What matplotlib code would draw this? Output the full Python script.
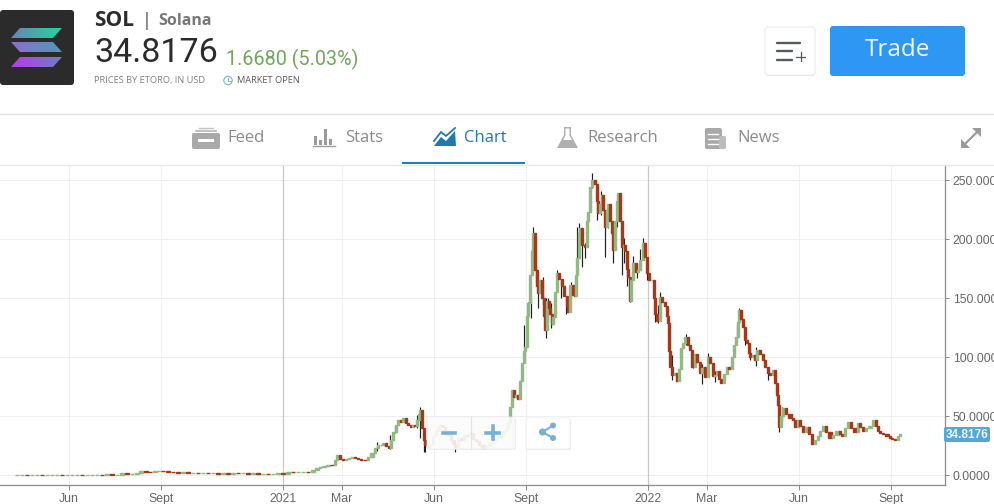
import numpy as np
import matplotlib
matplotlib.use("Agg")
import matplotlib.pyplot as plt
from matplotlib.patches import FancyBboxPatch, Polygon, Rectangle, Circle

# x unit: days since the left edge of the chart window (about 24 Mar 2020)
DAYS = [17,22,27,32,37,42,47,52,57,62,67,72,77,82,87,92,97,102,107,112,117,122,127,132,137,141,146,150,155,159,163,168,173,178,183,188,193,198,203,208,213,218,223,228,233,238,243,248,253,258,263,268,273,278,283,
288,293,298,303,308,313,317,320,324,328,332,335,337,340,343,346,349,352,355,358,361,365,368,372,375,378,381,383,386,389,391,393,396,398,401,403,406,408,411,413,415,417,419,420,422,424,425,
428,430,433,436,438,440,443,445,448,451,453,455,458,461,464,467,470,473,476,479,483,486,490,493,496,500,503,506,508,510,512,514,516,518,520,522,524,525,527,
528,530,532,533,535,537,538,540,542,544,545,547,549,550,552,553,555,557,559,562,564,567,568,570,573,575,576,577,579,580,582,585,587,588,590,592,595,597,598,600,602,603,605,607,608,610,612,613,615,617,618,620,622,624,625,627,628,630,631,633,636,638,640,643,645,647,649,652,654,655,657,660,662,665,667,668,669,670,672,675,677,679,681,683,685,688,690,692,695,697,700,702,704,705,708,710,713,715,717,719,721,724,727,729,732,734,736,738,739,741,743,745,747,749,750,753,755,757,760,763,765,768,770,773,775,777,778,779,781,783,786,790,793,795,798,800,803,807,809,812,815,818,820,823,826,830,833,837,840,842,845,848,851,855,858,860,863,866,870,873,876,878,880,883,887,890,892,895,898,900]
CLOSE = [.8,.8,.7,.7,.8,.7,.7,.7,.8,.7,.7,.7,.8,.7,.7,.7,.8,.7,1.0,.8,.8,1.8,1.6,1.6,2.0,3.4,3.3,3.2,3.4,3.9,3.6,3.2,3.0,2.5,2.7,2.3,2.3,2.0,2.0,1.7,1.8,1.6,1.9,1.6,2.1,1.7,2.0,1.6,1.8,1.4,1.5,1.3,1.3,1.7,1.6,
3.2,3.0,3.0,3.0,2.6,5,6,7,8,9.3,8.7,13,17,14,13,14,15,16,14.5,14,13.5,13,15.5,19,23,26,26,27.5,25,23,30,37,43,47,45,48.6,44,43,41,43,42,47,52,55,40,30,26,
24,27,33,38,41,43,41,38,34,30,27,24,32,30,34,33,36,31,29,26,23,25,28,30,32,33,38,40,44,58,72,66,68,65,80,95,105,109,135,
146,170,190,205,174,160,154,165,150,135,123,148,142,137,128,134,155,171,166,160,152,143,138,161,153,152,170,184,205,209,195,193,215,223,244,250,247,232,222,230,237,225,210,225,230,215,205,191,215,232,239,215,193,195,190,175,168,148,165,180,172,174,182,197,185,171,165,165,150,137,131,151,147,143,135,129,105,92,85,87,80,90,108,112,117,110,106,92,103,96,87,91,92,83,100,95,84,85,88,82,78,86,92,90,100,110,117,130,140,132,126,115,112,104,100,102,98,106,103,98,92,87,85,89,78,68,60,41,50,57,52,49,47,41,47,42,37,41,35,27,30,33,38,42,37,32,34,38,35,33,40,45,40,37,44,41,38,40,42,47,42,38,36,35,33,32,31,30,33,34.8]

WICK_DAYS = [377,390,395,417,420,424,425,455,524,528,531,533,532,536,538,543,546,548,551,557,561,566,571,577,579,582,585,587,592,597,601,605,608,613,617,622,624,627,630,633,637,640,643,647,655,658,660,672,686,693,702,708,715,737,739,745,750,756,768,779,782]
WICK_HIGH = [28,34,43,51,58,38,33,30,127,147,150,210,192,178,164,168,150,150,146,174,165,151,164,210,214,201,197,208,256,237,241,220,230,209,228,201,201,180,167,186,180,192,201,176,150,144,155,102,120,104,94,104,88,127,142,119,108,109,92,53,58]
WICK_LOW = [21,22,36,40,32,20,20,20,108,133,133,192,171,164,142,144,116,130,125,161,150,137,151,182,197,176,184,199,243,216,220,185,209,180,210,170,180,160,147,167,167,180,192,165,130,129,138,81,110,91,77,91,79,116,130,110,98,93,81,37,46]

X_TICK_POS = [69,161,283,342,434,526,648,707,799,891]
X_TICK_LABELS = ["Jun","Sept","2021","Mar","Jun","Sept","2022","Mar","Jun","Sept"]
Y_TICKS = [0,50,100,150,200,250]
Y_TICK_LABELS = ["0.0000","50.0000","100.0000","150.0000","200.0000","250.0000"]
YEAR_POS = [283,648]
LAST_PRICE = "34.8176"

W, H = 995, 504
fig = plt.figure(figsize=(W/100, H/100), dpi=100, facecolor="white")
SANS = "Open Sans"
GREY = "#666666"

# ---- chart
ax = fig.add_axes([0, (H-485)/H, 945/W, 320/H], facecolor="white")
ax.set_xlim(0, 945)
ax.set_ylim(-8.04, 262.7)
for s in ("left", "top"):
    ax.spines[s].set_visible(False)
for s in ("right", "bottom"):
    ax.spines[s].set_color("#8c8c8c")
    ax.spines[s].set_linewidth(0.9)
ax.yaxis.tick_right()
ax.set_xticks(X_TICK_POS)
ax.set_xticklabels(X_TICK_LABELS, fontname="Liberation Sans", fontsize=8.8, color=GREY)
ax.set_yticks(Y_TICKS)
ax.set_yticklabels(Y_TICK_LABELS, fontname="Liberation Sans", fontsize=8.8, color=GREY)
ax.tick_params(axis="x", length=3.5, width=0.7, color="#8c8c8c", pad=2.5)
ax.tick_params(axis="y", length=3, width=0.7, color="#8c8c8c", pad=2.5)
ax.grid(True, color="#efefef", linewidth=0.7)
ax.set_axisbelow(True)
for p in YEAR_POS:
    ax.axvline(p, color="#c8c8c8", linewidth=0.9, zorder=1)

days = np.array(DAYS, float)
close = np.array(CLOSE, float)
opens = np.r_[close[0], close[:-1]]
gaps = np.r_[5, np.diff(days)]
widths = np.clip(gaps*0.9, 2.0, 4.6)
up = close >= opens
ax.vlines(WICK_DAYS, WICK_LOW, WICK_HIGH, color="#1f1f1f", linewidth=0.85, zorder=2)
ax.bar(days, close-opens, bottom=opens, width=widths,
       color=np.where(up, "#93b982", "#a5371a"),
       edgecolor=np.where(up, "#93b982", "#a5371a"), linewidth=1.0, zorder=3)

# ---- page furniture, in pixel coordinates
ui = fig.add_axes([0, 0, 1, 1], facecolor="none")
ui.set_xlim(0, W)
ui.set_ylim(H, 0)
ui.axis("off")

def rbox(x0, y0, x1, y1, r, **kw):
    p = FancyBboxPatch((x0+r, y0+r), x1-x0-2*r, y1-y0-2*r,
                       boxstyle=f"round,pad={r},rounding_size={r}", **kw)
    ui.add_patch(p)
    return p

ui.add_patch(Rectangle((0, 0), W, 113, fc="white", ec="none"))
ui.add_patch(Rectangle((0, 114), W, 50, fc="white", ec="none"))
ui.plot([0, W], [113.5, 113.5], color="#e2e2e2", lw=1)
ui.plot([0, W], [164.5, 164.5], color="#e8e8e8", lw=1)

# logo
rbox(0, 10, 74, 85, 3, fc="#2b2b2b", ec="none")
def grad_para(pts, c0, c1):
    g = np.linspace(0, 1, 64)[None, :, None]
    img = np.array(matplotlib.colors.to_rgb(c0))[None, None, :]*(1-g) + np.array(matplotlib.colors.to_rgb(c1))[None, None, :]*g
    xs = [q[0] for q in pts]; ys = [q[1] for q in pts]
    im = ui.imshow(img, extent=(min(xs), max(xs), max(ys), min(ys)), aspect="auto", zorder=3)
    poly = Polygon(pts, closed=True, transform=ui.transData, fc="none", ec="none")
    ui.add_patch(poly)
    im.set_clip_path(poly)
grad_para([(20,28),(62,28),(53,38),(11,38)], "#6a84b0", "#1ed8a0")
grad_para([(11,42),(53,42),(62,52),(20,52)], "#8f6cd0", "#4f9ab4")
grad_para([(20,57),(62,57),(53,67),(11,67)], "#bb38ec", "#6c80c0")
ui.set_xlim(0, W); ui.set_ylim(H, 0)

def txt(x, y, s, **kw):
    kw.setdefault("fontname", SANS)
    kw.setdefault("va", "center")
    return ui.text(x, y, s, **kw)

txt(94, 21, "SOL", fontsize=15, fontweight="bold", color="#2b2b2b")
txt(142, 21, "|", fontsize=13, fontweight="bold", color="#8a8a8a")
txt(158, 21, "Solana", fontsize=11.5, fontweight="bold", color="#777777")
txt(94, 53, "34.8176", fontsize=24.5, fontname="Roboto", color="#2b2b2b")
txt(226, 59, "1.6680 (5.03%)", fontsize=14.2, fontname="Roboto", color="#6fa85c")
txt(94, 80.5, "PRICES BY ETORO, IN USD", fontsize=6.7, color="#808080")
txt(237, 80.5, "MARKET OPEN", fontsize=6.7, color="#5a5a5a")
ui.add_patch(Circle((228, 80.5), 4.2, fc="none", ec="#7ab4cf", lw=0.8))
ui.plot([228, 228, 230.5], [78, 81, 81], color="#7ab4cf", lw=0.7)

# watchlist + trade
rbox(766, 28, 815, 76, 3, fc="#e4e4e4", ec="none")
rbox(765, 27, 815, 75, 3, fc="white", ec="#ececec", lw=0.8)
for y, x1 in ((42.5, 800), (50.5, 792), (59.5, 792)):
    ui.plot([777, x1], [y, y], color="#555a5f", lw=1.7, solid_capstyle="round")
ui.plot([796, 805], [56.5, 56.5], color="#555a5f", lw=0.9)
ui.plot([800.5, 800.5], [52, 61], color="#555a5f", lw=0.9)
rbox(830, 26, 965, 76, 3, fc="#2e96f3", ec="none")
txt(897.5, 50, "Trade", fontsize=17.5, color="#f2f9ff", ha="center")

# tabs
TAB = "#8b8b8b"
for x, s, c in ((227, "Feed", TAB), (345, "Stats", TAB), (464, "Chart", "#2079ac"),
                (587, "Research", TAB), (737, "News", TAB)):
    txt(x, 138, s, fontsize=12, color=c)
ui.add_patch(Rectangle((402, 162), 123, 2, fc="#1f7fb4", ec="none"))
# feed icon
rbox(192, 133, 220, 149, 2, fc="#a9a9a9", ec="none")
ui.add_patch(Rectangle((198, 139), 16, 3, fc="white", ec="none"))
ui.plot([196, 216], [130.5, 130.5], color="#b5b5b5", lw=1.2)
ui.plot([199, 213], [127.5, 127.5], color="#c4c4c4", lw=1)
# stats icon
for x, y in ((314, 136), (319, 140), (324, 129), (329, 139)):
    ui.add_patch(Rectangle((x, y), 3.4, 145-y, fc="#9b9b9b", ec="none"))
ui.plot([312.5, 335], [146, 146], color="#9b9b9b", lw=1)
# chart icon
ui.add_patch(Polygon([(434,146),(441,137),(446,141),(455,131),(456,146)], fc="#2079ac", ec="none"))
ui.plot([434, 441, 446, 455], [141, 132, 136, 128], color="#2079ac", lw=1.3)
# flask icon
ui.add_patch(Polygon([(564,127),(571,127),(571,135),(578,148),(557,148),(564,135)], fc="#b0b0b0", ec="none"))
ui.add_patch(Polygon([(565.5,128.5),(569.5,128.5),(569.5,135.5),(572,140),(563,140),(565.5,135.5)], fc="white", ec="none"))
# news icon
rbox(705, 128, 722, 149, 2, fc="#a9a9a9", ec="none")
rbox(719, 136, 726, 149, 1.5, fc="#bcbcbc", ec="none")
for y in (134, 139, 144):
    ui.plot([708, 718], [y, y], color="white", lw=1)
# expand icon
ICON = "#9a9a9a"
ui.plot([964, 979], [145, 130], color=ICON, lw=1.6)
ui.add_patch(Polygon([(961,148),(961,139),(970,148)], fc=ICON, ec="none"))
ui.add_patch(Polygon([(981,128),(981,137),(972,128)], fc=ICON, ec="none"))

# zoom and share buttons, sitting on the chart
rbox(427, 418, 516, 450, 2, fc="#e6e6e6", ec="none", alpha=0.6)
rbox(427, 417, 515, 449, 2, fc="white", ec="#ececec", lw=0.7, alpha=0.76)
ui.plot([470.5, 470.5], [417, 449], color="#e4e4e4", lw=0.8)
BTN = "#79b1d3"
ui.plot([443, 455], [432.5, 432.5], color=BTN, lw=2.6)
ui.plot([486, 499], [432.5, 432.5], color=BTN, lw=2.6)
ui.plot([492.5, 492.5], [426, 439], color=BTN, lw=2.6)
rbox(527, 419, 571, 450, 2, fc="#e6e6e6", ec="none")
rbox(526, 418, 570, 449, 2, fc="white", ec="#f0f0f0", lw=0.7)
ui.plot([553, 542.5, 553], [425.5, 432, 438], color=BTN, lw=1.5)
for x, y, r in ((553, 425.5, 3), (542.5, 432, 3.6), (553, 438, 3)):
    ui.add_patch(Circle((x, y), r, fc=BTN, ec="none"))

# last-price tag
rbox(944, 427, 990, 442, 2, fc="#53a8d8", ec="none")
txt(967, 434.5, LAST_PRICE, fontname="Liberation Sans", fontsize=8.6, fontweight="bold",
    color="#eaf5fb", ha="center")

fig.savefig("out.png", dpi=100)
